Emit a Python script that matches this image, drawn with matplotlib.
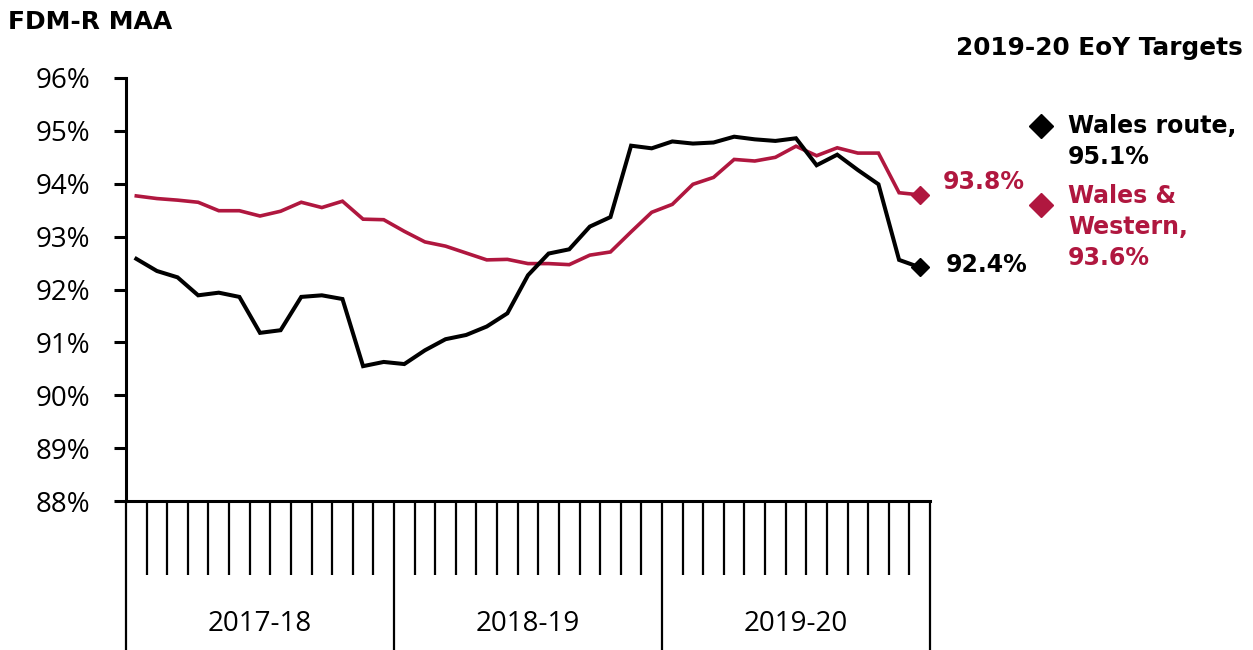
import matplotlib
matplotlib.use("Agg")
import matplotlib.pyplot as plt
import matplotlib.transforms as mtransforms
from matplotlib.ticker import FixedLocator, FuncFormatter

# ---- data ----
years = ["2017-18", "2018-19", "2019-20"]
periods_per_year = 13
wales_route = [92.58, 92.35, 92.23, 91.89, 91.94, 91.86, 91.18, 91.23, 91.86, 91.89,
               91.82, 90.55, 90.63, 90.59, 90.85, 91.06, 91.14, 91.30, 91.55, 92.27,
               92.68, 92.76, 93.19, 93.37, 94.72, 94.67, 94.80, 94.76, 94.78, 94.89,
               94.84, 94.81, 94.86, 94.35, 94.55, 94.26, 93.99, 92.56, 92.42]
wales_western = [93.77, 93.72, 93.69, 93.65, 93.49, 93.49, 93.39, 93.48, 93.65, 93.55,
                 93.67, 93.33, 93.32, 93.10, 92.90, 92.82, 92.69, 92.56, 92.57, 92.49,
                 92.49, 92.47, 92.65, 92.71, 93.09, 93.46, 93.61, 93.99, 94.12, 94.46,
                 94.43, 94.50, 94.71, 94.53, 94.68, 94.58, 94.58, 93.83, 93.79]
targets = [95.1, 93.6]
target_labels = ["Wales route,\n95.1%", "Wales &\nWestern,\n93.6%"]
last_labels = ["92.4%", "93.8%"]
yticks = [88, 89, 90, 91, 92, 93, 94, 95, 96]

BLACK = "#000000"
RED = "#B0173F"

W, H = 1253, 650
fig = plt.figure(figsize=(W / 100, H / 100), dpi=100)
ax = fig.add_axes([126 / W, (H - 501) / H, (930 - 126) / W, (501 - 78) / H])

n = len(wales_route)
x = list(range(n))
ax.plot(x, wales_western, color=RED, lw=2.6, solid_joinstyle="miter", zorder=3)
ax.plot(x, wales_route, color=BLACK, lw=2.9, solid_joinstyle="miter", zorder=4)
ax.plot([x[-1]], [wales_western[-1]], marker="D", color=RED, ms=9, zorder=5)
ax.plot([x[-1]], [wales_route[-1]], marker="D", color=BLACK, ms=9, zorder=5)

total = periods_per_year * len(years)
ax.set_xlim(-0.5, total - 0.5)
ax.set_ylim(88, 96)

# spines
for s in ["top", "right"]:
    ax.spines[s].set_visible(False)
ax.spines["left"].set_linewidth(2.2)
ax.spines["bottom"].set_linewidth(2.2)

# y axis
ax.set_yticks(yticks)
ax.yaxis.set_major_formatter(FuncFormatter(lambda v, p: f"{v:.0f}%"))
ax.tick_params(axis="y", direction="out", length=8.5, width=2.2, pad=17,
               labelsize=20)
for lab in ax.get_yticklabels():
    lab.set_fontfamily("Open Sans")

# x axis: period boundaries (minor) and year boundaries (major)
bounds = [k - 0.5 for k in range(total + 1)]
year_bounds = [k * periods_per_year - 0.5 for k in range(len(years) + 1)]
ax.xaxis.set_major_locator(FixedLocator(year_bounds))
ax.xaxis.set_minor_locator(FixedLocator([b for b in bounds if b not in year_bounds]))
ax.tick_params(axis="x", which="major", direction="out", length=108, width=1.6,
               labelbottom=False)
ax.tick_params(axis="x", which="minor", direction="out", length=53, width=1.6)

trans = mtransforms.blended_transform_factory(ax.transData, ax.transAxes)
for i, yl in enumerate(years):
    xc = i * periods_per_year + (periods_per_year - 1) / 2
    ax.text(xc, -(624 - 501) / 423, yl, transform=trans, ha="center", va="center",
            fontsize=20, family="Open Sans", color=BLACK)

# end labels
bold = dict(fontsize=17, fontweight="bold", family="DejaVu Sans")
ax.text(39.1, 94.03, last_labels[1], color=RED, ha="left", va="center",
        clip_on=False, **bold)
ax.text(39.25, 92.46, last_labels[0], color=BLACK, ha="left", va="center",
        clip_on=False, **bold)

# targets
tx = 43.9
ax.plot([tx], [targets[0]], marker="D", color=BLACK, ms=12, clip_on=False)
ax.plot([tx], [targets[1]], marker="D", color=RED, ms=12, clip_on=False)
ax.text(45.2, 95.32, target_labels[0], color=BLACK, ha="left", va="top",
        linespacing=1.38, clip_on=False, **bold)
ax.text(45.2, 94.0, target_labels[1], color=RED, ha="left", va="top",
        linespacing=1.38, clip_on=False, **bold)

fig.text(1243 / W, 1 - 48 / H, "2019-20 EoY Targets", ha="right", va="center",
         color=BLACK, fontsize=17.8, fontweight="bold", family="DejaVu Sans")
fig.text(8 / W, 1 - 22 / H, "FDM-R MAA", ha="left", va="center", color=BLACK,
         fontsize=18, fontweight="bold", family="DejaVu Sans")

fig.savefig("out.png", dpi=100)
